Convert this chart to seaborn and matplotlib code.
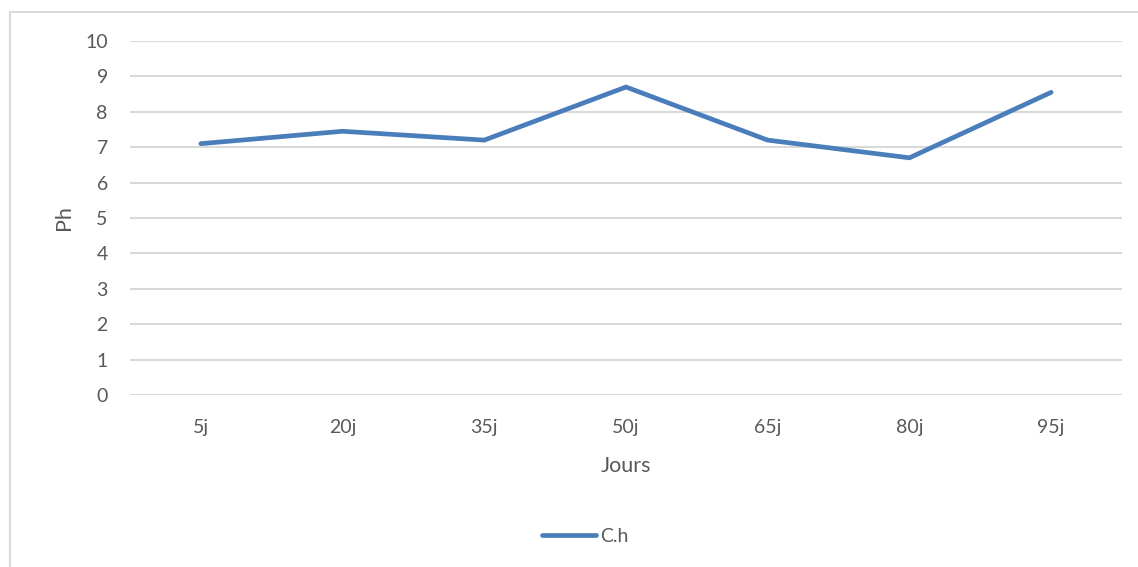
import matplotlib
matplotlib.use("Agg")
import matplotlib.pyplot as plt
from matplotlib.patches import Rectangle
from matplotlib.lines import Line2D
import seaborn as sns
import pandas as pd

# pH measured over the composting period
jours = ["5j", "20j", "35j", "50j", "65j", "80j", "95j"]
ph_values = [7.1, 7.45, 7.2, 8.7, 7.2, 6.7, 8.55]
series_name = "C.h"
y_ticks = list(range(0, 11))

sns.set_theme(style="white")
plt.rcParams["font.family"] = ["Lato", "DejaVu Sans"]

text_color = "#595959"
grid_color = "#d9d9d9"
line_color = "#4a7ebb"

W, H = 1138, 567
fig = plt.figure(figsize=(W / 100, H / 100), dpi=100)
ax = fig.add_axes([130 / W, 1 - 395 / H, (1122 - 130) / W, (395 - 41) / H])

# chart frame (light border around the chart area)
fig.patches.append(Rectangle((10 / W, -0.1), 1.2, 1 - 12 / H + 0.1,
                             transform=fig.transFigure, fill=False,
                             edgecolor=grid_color, linewidth=1.5))

df = pd.DataFrame({"Jours": jours, "Ph": ph_values})
sns.lineplot(data=df, x="Jours", y="Ph", ax=ax, color=line_color,
             linewidth=3.4, solid_capstyle="round", solid_joinstyle="miter",
             sort=False, zorder=3)

ax.set_xlim(-0.5, len(jours) - 0.5)
ax.set_ylim(0, 10)
ax.set_yticks(y_ticks)
ax.set_yticklabels([str(t) for t in y_ticks])

for t in y_ticks:
    ax.axhline(t, color=grid_color, linewidth=1.5, zorder=1)

for s in ax.spines.values():
    s.set_visible(False)

ax.tick_params(axis="y", length=0, pad=16, labelsize=14, labelcolor=text_color)
ax.tick_params(axis="x", length=0, pad=17, labelsize=14, labelcolor=text_color)

ax.set_xlabel("Jours", fontsize=15.5, color=text_color, labelpad=15)
ax.set_ylabel("Ph", fontsize=15.5, color=text_color, labelpad=8)

handle = Line2D([], [], color=line_color, linewidth=3.4, solid_capstyle="round")
leg = fig.legend([handle], [series_name], loc="center",
                 bbox_to_anchor=(585 / W, 1 - 536 / H), frameon=False,
                 fontsize=14, handlelength=2.8, handletextpad=0.2)
for txt in leg.get_texts():
    txt.set_color(text_color)

fig.savefig("out.png", dpi=100)
